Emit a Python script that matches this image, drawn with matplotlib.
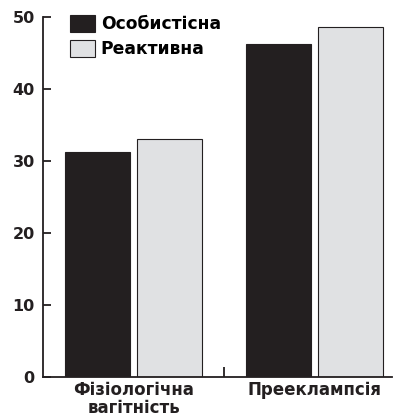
import matplotlib
matplotlib.use("Agg")
import matplotlib.pyplot as plt
from matplotlib.ticker import FixedLocator
import numpy as np

plt.rcParams['font.family'] = ['DejaVu Sans']
plt.rcParams['font.weight'] = 'bold'

categories = ["Фізіологічна\nвагітність", "Прееклампсія"]
series_names = ["Особистісна", "Реактивна"]
personal = [31.2, 46.2]
reactive = [33.1, 48.6]
yticks = [0, 10, 20, 30, 40, 50]

fig = plt.figure(figsize=(3.95, 4.2), dpi=100)
ax = fig.add_axes([0.109, 0.1024, 0.883, 0.8571])

x = np.arange(len(categories))
w = 0.36
off = 0.2
ax.bar(x - off, personal, w, color="#231f20", edgecolor="#231f20", linewidth=0.8, label=series_names[0])
ax.bar(x + off, reactive, w, color="#e0e1e3", edgecolor="#231f20", linewidth=0.8, label=series_names[1])

ax.set_xlim(-0.503, 1.43)
ax.set_ylim(0, 50)
for s in ["top", "right"]:
    ax.spines[s].set_visible(False)
for s in ["left", "bottom"]:
    ax.spines[s].set_linewidth(1.3)
    ax.spines[s].set_color("#231f20")

ax.set_yticks(yticks)
ax.tick_params(axis="y", direction="in", length=6, width=1.3, pad=6, labelsize=11.5, colors="#231f20")
ax.set_xticks(x)
ax.set_xticklabels(categories, fontsize=12, linespacing=1.0, color="#231f20")
ax.tick_params(axis="x", length=0, pad=3)
ax.xaxis.set_minor_locator(FixedLocator([0.5]))
ax.tick_params(axis="x", which="minor", direction="in", length=7, width=1.3, color="#231f20")

ax.legend(loc="upper left", bbox_to_anchor=(0.177, 0.964), bbox_transform=fig.transFigure,
          frameon=False, fontsize=12.3, handlelength=1.45, handleheight=1.1,
          handletextpad=0.35, labelspacing=0.42, borderpad=0, borderaxespad=0)

fig.savefig("out.png", dpi=100)
